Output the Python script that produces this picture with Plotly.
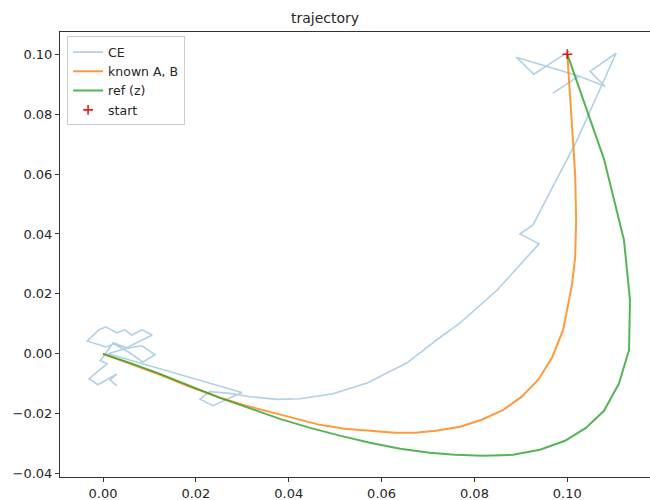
import plotly.graph_objects as go

# Trajectory estimates in the (x1, x2) state plane
ce_x = [0.1004, 0.0928, 0.0890, 0.1025, 0.0969, 0.1025, 0.1081, 0.1049, 0.1105, 0.1021,
        0.0926, 0.0898, 0.0939, 0.0849, 0.0769, 0.0719, 0.0655, 0.0569, 0.0495, 0.0424,
        0.0375, 0.0317, 0.0274, 0.0230, 0.0209, 0.0237, 0.0299, 0.0166, 0.0080, 0.0011,
        0.0047, 0.0084, 0.0112, 0.0086, 0.0054, 0.0024, 0.0006, -0.0034, -0.0009, 0.0006,
        0.0030, 0.0047, 0.0062, 0.0084, 0.0106, 0.0050, 0.0022, -0.0006, 0.0009, -0.0030,
        -0.0011, 0.0030, 0.0015, 0.0030]
ce_y = [0.1010, 0.0933, 0.0990, 0.0927, 0.0870, 0.0927, 0.0893, 0.0943, 0.1003, 0.0713,
        0.0430, 0.0400, 0.0367, 0.0213, 0.0103, 0.0047, -0.0030, -0.0097, -0.0133, -0.0150,
        -0.0152, -0.0143, -0.0132, -0.0126, -0.0151, -0.0173, -0.0129, -0.0070, -0.0030, 0.0000,
        0.0017, 0.0027, -0.0003, -0.0027, 0.0007, 0.0033, 0.0023, 0.0043, 0.0080, 0.0090,
        0.0070, 0.0080, 0.0063, 0.0080, 0.0063, 0.0020, 0.0037, -0.0023, -0.0033, -0.0083,
        -0.0103, -0.0067, -0.0087, -0.0107]

known_x = [0.1000, 0.1010, 0.1017, 0.1019, 0.1017, 0.1010, 0.1002, 0.0991, 0.0967, 0.0937,
           0.0902, 0.0862, 0.0816, 0.0769, 0.0717, 0.0672, 0.0629, 0.0575, 0.0521, 0.0467,
           0.0414, 0.0360, 0.0306, 0.0252, 0.0187, 0.0123, 0.0058, 0.0000]
known_y = [0.1000, 0.0780, 0.0597, 0.0447, 0.0323, 0.0230, 0.0163, 0.0080, -0.0013, -0.0087,
           -0.0143, -0.0187, -0.0220, -0.0243, -0.0257, -0.0263, -0.0263, -0.0257, -0.0250, -0.0237,
           -0.0215, -0.0195, -0.0172, -0.0146, -0.0110, -0.0070, -0.0033, 0.0000]

ref_x = [0.1000, 0.1079, 0.1122, 0.1135, 0.1133, 0.1111, 0.1079, 0.1040, 0.0995, 0.0941,
         0.0883, 0.0818, 0.0758, 0.0704, 0.0640, 0.0575, 0.0510, 0.0446, 0.0381, 0.0317,
         0.0252, 0.0187, 0.0123, 0.0058, 0.0000]
ref_y = [0.1000, 0.0650, 0.0380, 0.0180, 0.0013, -0.0100, -0.0190, -0.0247, -0.0290, -0.0320,
         -0.0337, -0.0340, -0.0337, -0.0330, -0.0317, -0.0297, -0.0273, -0.0247, -0.0217, -0.0183,
         -0.0147, -0.0107, -0.0067, -0.0030, 0.0000]

start_x = [0.1000]
start_y = [0.1000]

x_ticks = [0.00, 0.02, 0.04, 0.06, 0.08, 0.10]
y_ticks = [-0.04, -0.02, 0.00, 0.02, 0.04, 0.06, 0.08, 0.10]

FONT = "DejaVu Sans"

fig = go.Figure()
fig.add_trace(go.Scatter(x=ce_x, y=ce_y, mode="lines", name="CE",
                         line=dict(color="rgba(31,119,180,0.35)", width=1.6)))
fig.add_trace(go.Scatter(x=known_x, y=known_y, mode="lines", name="known A, B",
                         line=dict(color="rgba(255,127,14,0.8)", width=2)))
fig.add_trace(go.Scatter(x=ref_x, y=ref_y, mode="lines", name="ref (z)",
                         line=dict(color="rgba(44,160,44,0.8)", width=2)))
fig.add_trace(go.Scatter(x=start_x, y=start_y, mode="markers", name="start",
                         marker=dict(symbol="cross-thin", size=7, color="red",
                                     line=dict(color="rgba(230,0,0,0.9)", width=1.6))))

fig.update_layout(
    width=650, height=500,
    margin=dict(l=60, r=0, t=32, b=23),
    paper_bgcolor="white", plot_bgcolor="white",
    font=dict(family=FONT, size=13, color="#262626"),
    title=dict(text="trajectory", x=0.5, xanchor="center", y=1 - 18 / 500,
               yanchor="middle", font=dict(family=FONT, size=14, color="#262626")),
    showlegend=True,
    legend=dict(x=0.012, y=0.990, xanchor="left", yanchor="top",
                bgcolor="rgba(255,255,255,0.8)", bordercolor="#cccccc", borderwidth=1,
                font=dict(family=FONT, size=12.5, color="#262626"),
                itemwidth=30, tracegroupgap=0),
)
fig.update_xaxes(range=[-0.00926, 0.11781], tickvals=x_ticks, tickformat=".2f",
                 showgrid=False, zeroline=False, showline=True, mirror=True,
                 linecolor="#333333", linewidth=1, ticks="outside", ticklen=4,
                 tickcolor="#333333", automargin=False)
fig.update_yaxes(range=[-0.0411, 0.1074], tickvals=y_ticks, tickformat=".2f",
                 showgrid=False, zeroline=False, showline=True, mirror=False,
                 linecolor="#333333", linewidth=1, ticks="outside", ticklen=4,
                 tickcolor="#333333", automargin=False)

fig.write_html("out.html")
